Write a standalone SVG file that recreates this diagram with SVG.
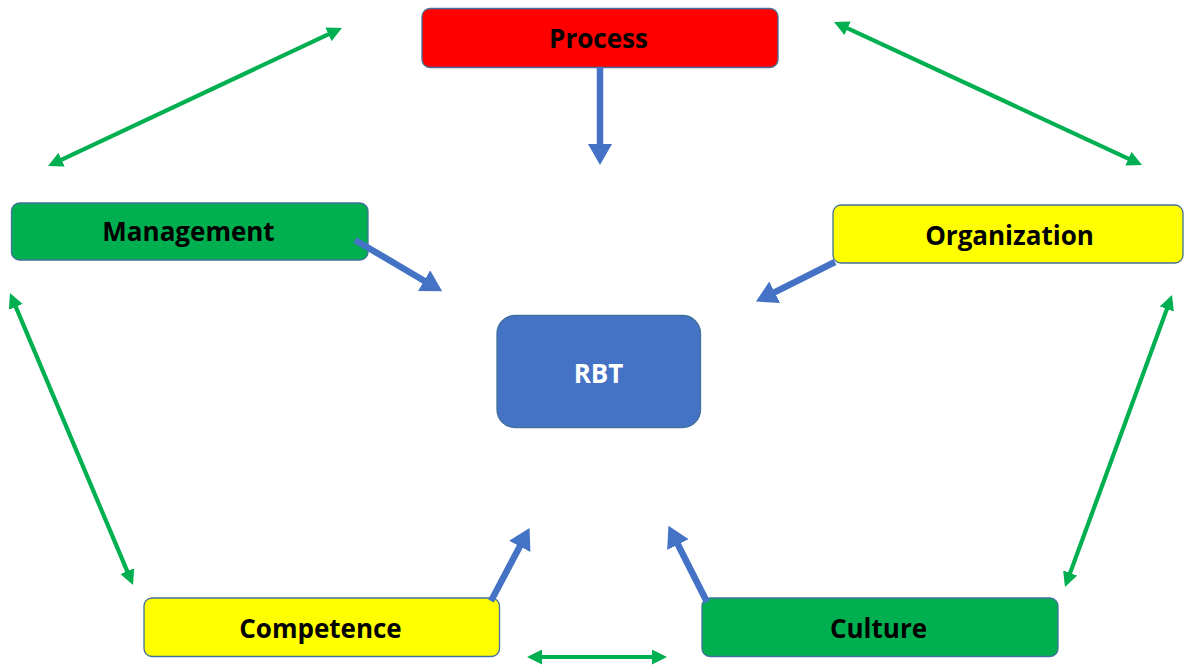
<svg xmlns="http://www.w3.org/2000/svg" width="1184" height="666" viewBox="0 0 1184 666">
<style>
.box{stroke:#41719C;stroke-width:1.3}
.lbl{font-family:"Open Sans","Liberation Sans",sans-serif;font-weight:bold;font-size:26px;text-anchor:middle;fill:#000}
.blue{stroke:#4472C4;stroke-width:6.5;fill:none}
.green{stroke:#00B050;stroke-width:4.2;fill:none}
</style>
<defs>
<marker id="bh" markerUnits="userSpaceOnUse" markerWidth="24" markerHeight="24" refX="2" refY="12" orient="auto">
<path d="M0,0 L21,12 L0,24 z" fill="#4472C4"/>
</marker>
<marker id="gh" markerUnits="userSpaceOnUse" markerWidth="15" markerHeight="15" refX="1" refY="7.5" orient="auto-start-reverse">
<path d="M0,0 L15,7.5 L0,15 z" fill="#00B050"/>
</marker>
</defs>
<rect width="1184" height="666" fill="#fff"/>
<g id="process">
<rect class="box" x="422" y="8.5" width="356" height="59" rx="8" fill="#FF0000"/>
<text class="lbl" x="598.5" y="48">Process</text>
</g>
<g id="management">
<rect class="box" x="11.5" y="203" width="356.5" height="57" rx="8" fill="#00B050"/>
<text class="lbl" x="188.5" y="240.5">Management</text>
</g>
<g id="organization">
<rect class="box" x="833" y="205" width="350" height="58" rx="8" fill="#FFFF00"/>
<text class="lbl" x="1009.5" y="245">Organization</text>
</g>
<g id="rbt">
<rect class="box" x="497" y="315.5" width="203.5" height="112" rx="18" fill="#4472C4"/>
<text class="lbl" x="598.5" y="383" style="fill:#fff">RBT</text>
</g>
<g id="competence">
<rect class="box" x="144" y="598" width="355.5" height="58.5" rx="8" fill="#FFFF00"/>
<text class="lbl" x="320.5" y="638">Competence</text>
</g>
<g id="culture">
<rect class="box" x="702" y="598" width="356" height="58.5" rx="8" fill="#00B050"/>
<text class="lbl" x="878.5" y="638">Culture</text>
</g>
<g id="connectors">
<line class="blue" x1="600" y1="67" x2="600" y2="146" marker-end="url(#bh)"/>
<line class="blue" x1="355" y1="240" x2="425.8" y2="281.7" marker-end="url(#bh)"/>
<line class="blue" x1="835" y1="262" x2="772.9" y2="293.1" marker-end="url(#bh)"/>
<line class="blue" x1="491" y1="601" x2="520.7" y2="544.7" marker-end="url(#bh)"/>
<line class="blue" x1="707" y1="602" x2="677" y2="542.8" marker-end="url(#bh)"/>
<line class="green" x1="60.7" y1="160.1" x2="329.3" y2="33.9" marker-start="url(#gh)" marker-end="url(#gh)"/>
<line class="green" x1="846.7" y1="27.9" x2="1129.3" y2="159.1" marker-start="url(#gh)" marker-end="url(#gh)"/>
<line class="green" x1="15.4" y1="305.9" x2="127.6" y2="572.1" marker-start="url(#gh)" marker-end="url(#gh)"/>
<line class="green" x1="1167.2" y1="308.1" x2="1069.8" y2="573.9" marker-start="url(#gh)" marker-end="url(#gh)"/>
<line class="green" x1="541" y1="657" x2="653" y2="657" marker-start="url(#gh)" marker-end="url(#gh)"/>
</g>
</svg>
